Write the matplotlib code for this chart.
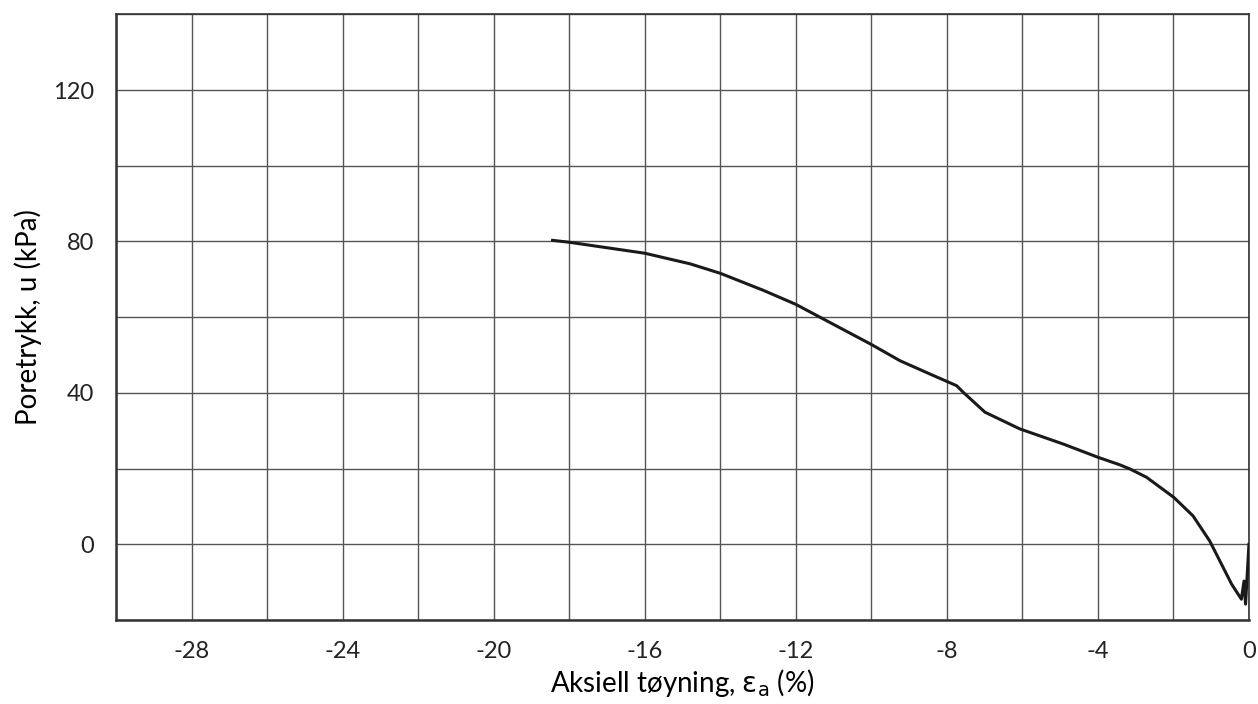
import matplotlib
matplotlib.use("Agg")
import matplotlib.pyplot as plt
from matplotlib.ticker import FuncFormatter

plt.rcParams['font.family'] = ['Lato', 'DejaVu Sans']
plt.rcParams['axes.unicode_minus'] = False

# strain (%) and pore pressure (kPa)
strain = [-18.44, -18.0, -16.0, -14.8, -14.0, -12.86, -12.0, -11.36, -10.0, -9.24,
          -8.45, -7.74, -7.57, -6.99, -6.07, -4.92, -4.0, -3.42, -3.15, -2.71,
          -1.99, -1.48, -1.04, -0.77, -0.46, -0.20, -0.13, -0.09, 0.0]
pore = [80.3, 79.8, 76.9, 74.1, 71.6, 67.1, 63.4, 60.0, 52.8, 48.5,
        45.0, 41.9, 40.2, 34.9, 30.5, 26.5, 23.0, 21.0, 19.9, 17.7,
        12.4, 7.5, 0.9, -4.4, -10.5, -14.5, -9.7, -15.8, 0.0]

x_labels = [-28, -24, -20, -16, -12, -8, -4, 0]
y_labels = [0, 40, 80, 120]

fig = plt.figure(figsize=(12.58, 7.04), dpi=100)
ax = fig.add_axes([0.0922, 0.1193, 0.9006, 0.8603])

ax.plot(strain, pore, color='#1a1a1a', lw=2.2, zorder=3)

ax.set_xlim(-30, 0)
ax.set_ylim(-20, 140)
ax.set_xticks(range(-30, 1, 2))
ax.set_yticks(range(-20, 141, 20))
ax.xaxis.set_major_formatter(FuncFormatter(lambda v, p: f"{int(round(v))}" if int(round(v)) in x_labels else ""))
ax.yaxis.set_major_formatter(FuncFormatter(lambda v, p: f"{int(round(v))}" if int(round(v)) in y_labels else ""))
ax.tick_params(axis='x', length=0, labelsize=17, pad=15, colors='#222222')
ax.tick_params(axis='y', length=0, labelsize=17, pad=16, colors='#222222')
ax.grid(True, color='#555555', lw=1)
for s in ax.spines.values():
    s.set_color('#333333')
    s.set_linewidth(1.2)
ax.spines['left'].set_linewidth(1.8)
ax.spines['bottom'].set_linewidth(1.8)

ax.set_xlabel(r'Aksiell tøyning, $\mathrm{\varepsilon_a}$ (%)', fontsize=20, labelpad=4)
ax.set_ylabel('Poretrykk, u (kPa)', fontsize=20, labelpad=8)

fig.savefig('out.png', dpi=100)
